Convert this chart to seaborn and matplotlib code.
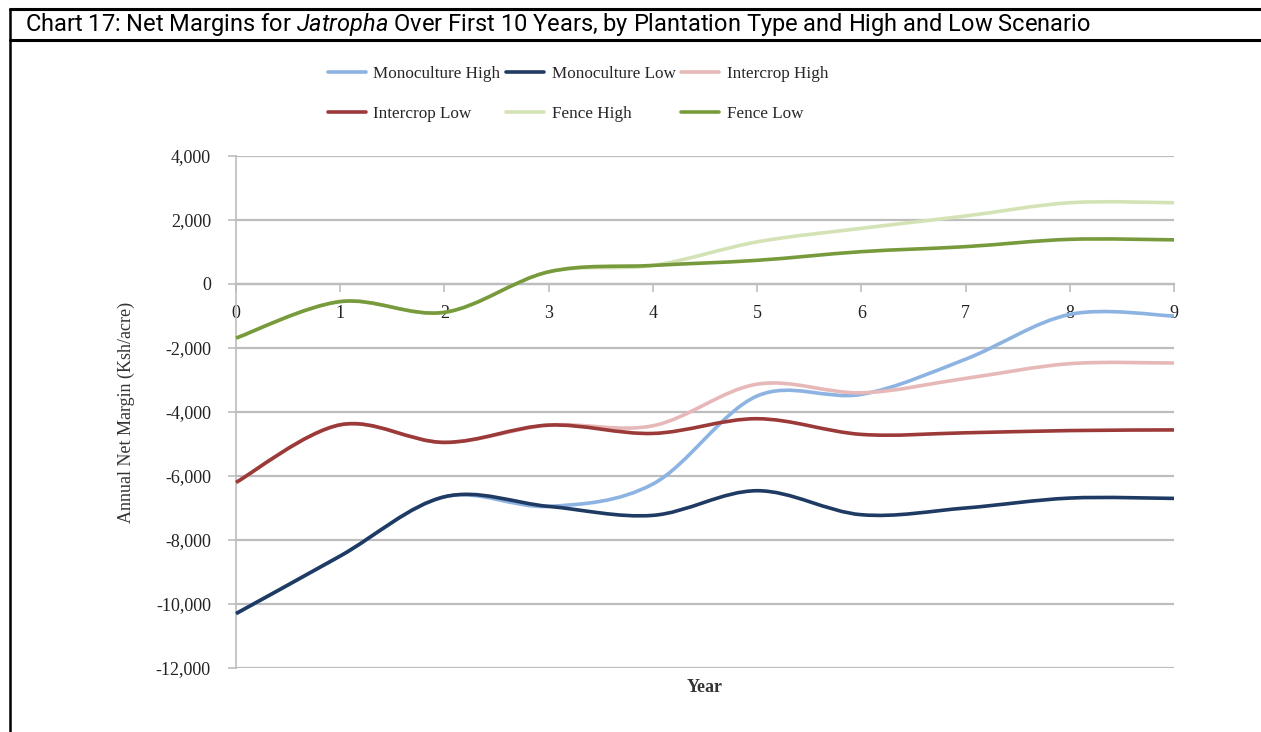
import numpy as np
import pandas as pd
import matplotlib
matplotlib.use("Agg")
import matplotlib.pyplot as plt
import seaborn as sns
from matplotlib.path import Path
from matplotlib.patches import PathPatch
from matplotlib.lines import Line2D
from matplotlib.ticker import FuncFormatter

# Net margins (Ksh/acre) for years 0-9
years = list(range(10))
series_names = ["Monoculture High", "Monoculture Low", "Intercrop High",
                "Intercrop Low", "Fence High", "Fence Low"]
monoculture_high = [-10300, -8500, -6650, -6950, -6250, -3500, -3450, -2350, -950, -1000]
monoculture_low = [-10300, -8500, -6650, -6950, -7230, -6460, -7210, -7000, -6690, -6700]
intercrop_high = [-6200, -4400, -4950, -4410, -4430, -3130, -3400, -2950, -2490, -2470]
intercrop_low = [-6200, -4400, -4950, -4410, -4670, -4210, -4700, -4650, -4580, -4560]
fence_high = [-1690, -550, -885, 380, 580, 1316, 1740, 2125, 2540, 2540]
fence_low = [-1690, -550, -885, 380, 580, 740, 1010, 1167, 1396, 1380]
series_colors = ["#8DB3E2", "#1F3B64", "#E6B9B8", "#9B3A38", "#D4E3B5", "#779B3C"]
y_ticks = list(range(-12000, 4001, 2000))

sns.set_theme(style="white")
plt.rcParams["font.family"] = ["Liberation Serif", "DejaVu Serif"]
plt.rcParams["axes.unicode_minus"] = False
plt.rcParams["mathtext.fontset"] = "custom"
plt.rcParams["mathtext.it"] = "Roboto:italic"
plt.rcParams["mathtext.rm"] = "Roboto"

values = (monoculture_high + monoculture_low + intercrop_high
          + intercrop_low + fence_high + fence_low)
df = pd.DataFrame({
    "Year": years * len(series_names),
    "Margin": values,
    "Series": np.repeat(series_names, len(years)),
})

W, H = 1261, 732
fig = plt.figure(figsize=(W / 100, H / 100), dpi=100)
ax = fig.add_axes([236 / W, 1 - 668 / H, (1174 - 236) / W, (668 - 156) / H])

LW = 2.6
sns.lineplot(data=df, x="Year", y="Margin", hue="Series", hue_order=series_names,
             palette=series_colors, estimator=None, linewidth=LW, ax=ax)


def smooth_path(x, y):
    """Cubic Bezier path through the points (Catmull-Rom tangents)."""
    pts = np.column_stack([x, y]).astype(float)
    ext = np.vstack([pts[0], pts, pts[-1]])
    verts = [pts[0]]
    codes = [Path.MOVETO]
    for i in range(len(pts) - 1):
        p0, p1, p2, p3 = ext[i], ext[i + 1], ext[i + 2], ext[i + 3]
        c1 = p1 + (p2 - p0) / 6.0
        c2 = p2 - (p3 - p1) / 6.0
        verts += [c1, c2, p2]
        codes += [Path.CURVE4] * 3
    return Path(verts, codes)


# Replace the straight polylines with smoothed curves
for i, line in enumerate(list(ax.lines)):
    xd, yd = np.asarray(line.get_xdata()), np.asarray(line.get_ydata())
    if len(xd) < 2:
        continue
    patch = PathPatch(smooth_path(xd, yd), facecolor="none",
                      edgecolor=line.get_color(), lw=LW, capstyle="butt",
                      joinstyle="round", zorder=3 + i * 0.1, clip_on=False)
    ax.add_patch(patch)
    line.set_visible(False)

ax.set_xlim(0, 9)
ax.set_ylim(-12000, 4000)
ax.set_xticks(years)
ax.set_yticks(y_ticks)
ax.yaxis.set_major_formatter(FuncFormatter(lambda v, _: f"{v:,.0f}"))

grid_c = "#BDBDBD"
ax.grid(axis="y", color=grid_c, lw=1.6)
ax.grid(axis="x", visible=False)
ax.set_axisbelow(True)
for side in ("top", "right"):
    ax.spines[side].set_visible(False)
ax.spines["bottom"].set_position(("data", 0))
ax.spines["bottom"].set_color(grid_c)
ax.spines["bottom"].set_linewidth(1.6)
ax.spines["left"].set_color(grid_c)
ax.spines["left"].set_linewidth(1.2)

ax.tick_params(axis="x", bottom=True, direction="out", length=6, width=1.2,
               color=grid_c, pad=9, labelsize=13, labelcolor="#222222")
ax.tick_params(axis="y", left=True, direction="out", length=6, width=1.2,
               color=grid_c, pad=12, labelsize=13, labelcolor="#222222")

ax.set_ylabel("Annual Net Margin (Ksh/acre)", fontsize=13, color="#333333")
ax.yaxis.set_label_coords(-0.108, 0.5)
ax.set_xlabel("Year", fontsize=13, fontweight="bold", color="#333333")
ax.xaxis.set_label_coords(0.5, -0.021)

# Legend laid out row by row (matplotlib fills columns first)
old = ax.get_legend()
handles = list(old.legend_handles)
labels = [t.get_text() for t in old.get_texts()]
old.remove()
ncol, nrow = 3, 2
order = [r * ncol + c for c in range(ncol) for r in range(nrow)]
fig.legend([handles[k] for k in order], [labels[k] for k in order],
           loc="upper left", bbox_to_anchor=(328 / W, 1 - 66 / H),
           bbox_transform=fig.transFigure, ncol=ncol, frameon=False,
           fontsize=12.3, handlelength=2.2, handletextpad=0.45,
           columnspacing=0.35, labelspacing=1.4, borderpad=0, borderaxespad=0)

fig.text(25 / W, 1 - 24 / H,
         r"Chart 17: Net Margins for $\it{Jatropha}$ Over First 10 Years, by Plantation Type and High and Low Scenario",
         family="Roboto", fontsize=17, va="center", ha="left", color="black")

border = dict(transform=fig.transFigure, color="black")
fig.add_artist(Line2D([10 / W, 1], [1 - 9 / H] * 2, lw=2.2, **border))
fig.add_artist(Line2D([10 / W, 1], [1 - 40 / H] * 2, lw=2.2, **border))
fig.add_artist(Line2D([10 / W] * 2, [0, 1 - 9 / H], lw=1.8, **border))

fig.savefig("out.png", dpi=100)
